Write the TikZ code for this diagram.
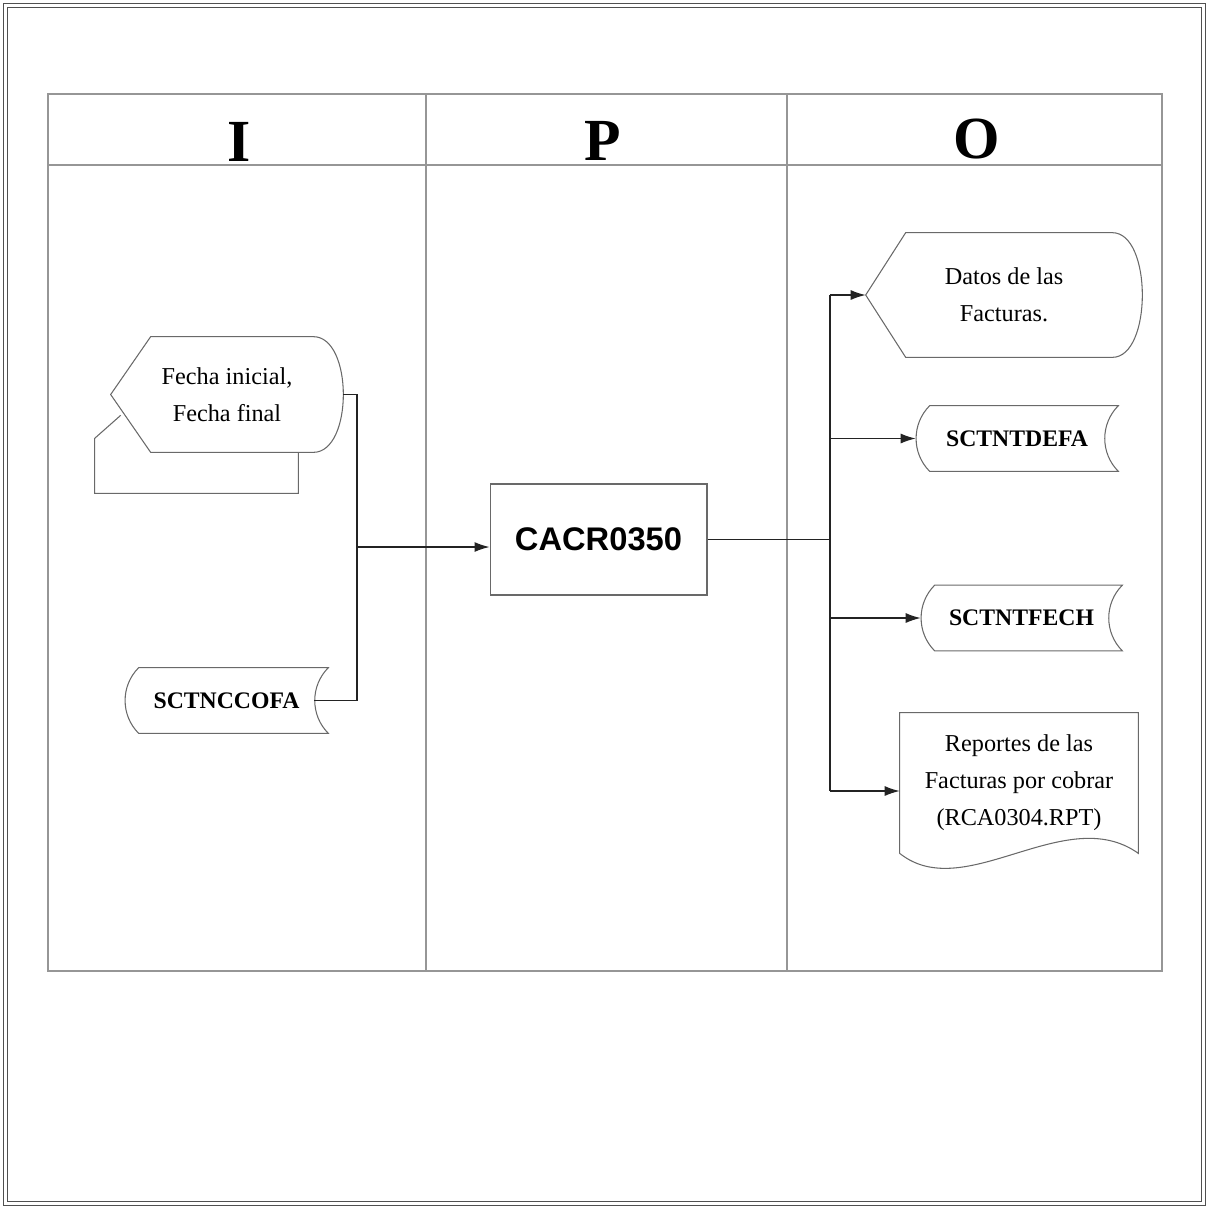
\documentclass[tikz,border=0pt]{standalone}
\usepackage{fontspec}
\setmainfont{Liberation Serif}
\newfontfamily\arialfont{Liberation Sans}
\usetikzlibrary{arrows.meta,calc}
\definecolor{ink}{RGB}{35,35,35}
\definecolor{rule}{RGB}{150,150,150}
\definecolor{edge}{RGB}{105,105,105}
\definecolor{frameline}{RGB}{80,80,80}
\tikzset{
  >={Latex[length=3mm,width=2mm]},
  flow/.style={draw=ink,line width=0.7pt},
  outline/.style={draw=edge,line width=0.6pt},
  grid/.style={draw=rule,line width=0.6pt},
  frame/.style={draw=frameline,line width=1pt},
  head/.style={font=\fontsize{34}{34}\selectfont\bfseries,inner sep=0pt},
  display/.style 2 args={minimum width=#1,minimum height=#2,inner sep=0pt,
    align=center,font=\fontsize{13.8}{21}\selectfont},
  stored/.style={minimum width=#1,minimum height=1.3cm,inner sep=0pt,
    font=\fontsize{13.5}{13.5}\selectfont\bfseries},
  proc/.style={draw=edge,line width=0.6pt,minimum width=4.34cm,minimum height=2.22cm,
    inner sep=0pt,font=\arialfont\fontsize{18.6}{18.6}\selectfont\bfseries},
  report/.style={minimum width=4.76cm,minimum height=2.8cm,inner sep=0pt,
    align=center,font=\fontsize{13.8}{21}\selectfont},
}
\begin{document}
\begin{tikzpicture}[x=0.02cm,y=-0.02cm]
  \useasboundingbox (0,0) rectangle (1209,1208);
  % page frame
  \draw[frame] (3.5,3.5) rectangle (1205.5,1205.5);
  \draw[frame] (7.5,7.5) rectangle (1201.5,1201.5);
  % IPO table
  \draw[grid] (48,94) rectangle (1162,971);
  \draw[grid] (48,165) -- (1162,165);
  \foreach \x in {426,787} \draw[grid] (\x,94) -- (\x,971);
  \node[head] (hI) at (239,142) {I};
  \node[head] (hP) at (603,141) {P};
  \node[head] (hO) at (977,139) {O};

  % input side
  \node[display={4.64cm}{2.3cm}] (fecha) at (227,394.5) {Fecha inicial,\\Fecha final};
  \node[stored=4.06cm] (ccofa) at (226.5,700.5) {SCTNCCOFA};
  % process
  \node[proc] (proc) at (598.5,539.5) {CACR0350};
  % output side
  \node[display={5.52cm}{2.48cm}] (datos) at (1004,295) {Datos de las\\Facturas.};
  \node[stored=4.04cm] (defa) at (1017,438.5) {SCTNTDEFA};
  \node[stored=4.02cm] (fech) at (1021.5,618) {SCTNTFECH};
  \node[report] (rep) at (1019,783) {Reportes de las\\Facturas por cobrar\\(RCA0304.RPT)};

  % shape outlines
  \foreach \n in {fecha,datos}
    \draw[outline] (\n.west) -- ([xshift=0.8cm]\n.north west) -- ([xshift=-0.6cm]\n.north east)
      .. controls ([xshift=0.2cm]\n.north east) and ([xshift=0.2cm]\n.south east) .. ([xshift=-0.6cm]\n.south east)
      -- ([xshift=0.8cm]\n.south west) -- cycle;
  \draw[outline] ([shift={(10,-37)}]fecha.south west) -- ([shift={(-16,-14)}]fecha.south west)
    -- ([shift={(-16,41)}]fecha.south west) -- ([shift={(-45,41)}]fecha.south east)
    -- ([xshift=-0.9cm]fecha.south east);
  \foreach \n in {ccofa,defa,fech}
    \draw[outline] ([xshift=0.28cm]\n.north west) -- (\n.north east) to[out=-135,in=135] (\n.south east)
      -- ([xshift=0.28cm]\n.south west) to[out=135,in=-135] cycle;
  \draw[outline] (rep.north west) -- (rep.south west) .. controls +(65,52) and +(-73,-52) .. (rep.south east)
    -- (rep.north east) -- cycle;

  % connectors
  \coordinate (jin) at (357,547);
  \draw[flow] (fecha.east) -| (jin) |- ([xshift=-0.28cm]ccofa.east);
  \draw[flow,->] (jin) -- (jin -| proc.west);
  \coordinate (bus) at (830,539.5);
  \coordinate (repin) at ([yshift=-0.16cm]rep.west);
  \draw[flow] (proc.east) -- (bus);
  \draw[flow] (bus |- datos.west) -- (bus |- repin);
  \foreach \t in {datos.west,defa.west,fech.west,repin}
    \draw[flow,->] (bus |- \t) -- (\t);
\end{tikzpicture}
\end{document}
